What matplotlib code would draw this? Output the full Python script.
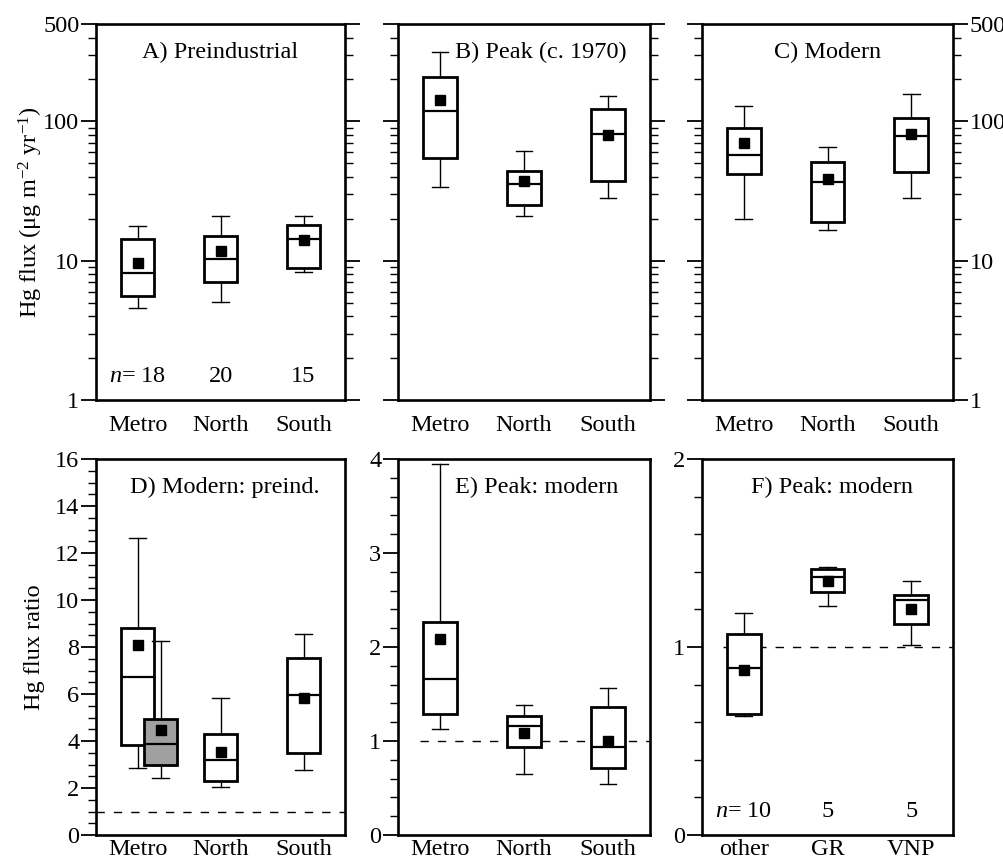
import matplotlib
matplotlib.use("Agg")
import matplotlib.pyplot as plt
from matplotlib.ticker import FixedLocator, MultipleLocator, LogLocator, NullFormatter, FixedFormatter

plt.rcParams['font.family'] = ['Liberation Serif', 'DejaVu Serif']
plt.rcParams['mathtext.fontset'] = 'custom'
plt.rcParams['mathtext.rm'] = 'Liberation Serif'
plt.rcParams['mathtext.it'] = 'Liberation Serif:italic'
FS = 17.5
plt.rcParams['font.size'] = FS

# ---------------- data ----------------
regions = ["Metro", "North", "South"]
parks = ["other", "GR", "VNP"]

# each list: [whisker_low, q1, median, q3, whisker_high], means separate
A_stats = [[4.54, 5.62, 8.17, 14.3, 17.6],
           [5.09, 7.05, 10.2, 15.1, 21.0],
           [8.27, 8.88, 14.3, 18.0, 21.0]]
A_means = [9.64, 11.7, 14.0]
A_n = ["18", "20", "15"]

B_stats = [[33.6, 54.5, 118, 207, 315],
           [20.8, 25.0, 35.7, 43.7, 61.5],
           [28.2, 37.1, 81.4, 122, 153]]
B_means = [143, 37.1, 80.1]

C_stats = [[20.0, 42.1, 57.6, 89.9, 130],
           [16.7, 19.1, 36.5, 51.0, 65.4],
           [28.2, 43.0, 77.9, 105, 157]]
C_means = [69.8, 38.7, 80.5]

D_stats = [[2.83, 3.81, 6.73, 8.82, 12.63],
           [2.05, 2.29, 3.21, 4.28, 5.85],
           [2.76, 3.47, 5.95, 7.55, 8.54]]
D_means = [8.07, 3.54, 5.81]
D_grey_stats = [2.44, 2.96, 3.87, 4.93, 8.25]
D_grey_mean = 4.46

E_stats = [[1.126, 1.285, 1.657, 2.265, 3.947],
           [0.644, 0.931, 1.161, 1.264, 1.38],
           [0.538, 0.715, 0.938, 1.366, 1.565]]
E_means = [2.088, 1.08, 1.0]

F_stats = [[0.632, 0.646, 0.889, 1.07, 1.18],
           [1.219, 1.292, 1.372, 1.414, 1.428],
           [1.009, 1.12, 1.251, 1.274, 1.349]]
F_means = [0.876, 1.349, 1.202]
F_n = ["10", "5", "5"]

# ---------------- figure ----------------
W, H = 1004, 867
fig = plt.figure(figsize=(W / 100, H / 100), dpi=100)

def ax_at(x0, y0, x1, y1):
    return fig.add_axes([x0 / W, 1 - y1 / H, (x1 - x0) / W, (y1 - y0) / H])

cols = [(96, 345), (398, 650), (702, 953)]
top = (24, 400)
bot = (459, 835)
DASH = (0, (6, 6.5))
YLAB_X = -0.205

def draw_boxes(ax, stats, means, positions, facecolor="white", z=3):
    bxs = []
    for s, m in zip(stats, means):
        bxs.append(dict(whislo=s[0], q1=s[1], med=s[2], q3=s[3], whishi=s[4],
                        mean=m, fliers=[]))
    ax.bxp(bxs, positions=positions, widths=0.4, showmeans=True, patch_artist=True,
           showfliers=False,
           boxprops=dict(facecolor=facecolor, edgecolor="black", linewidth=2.0, zorder=z),
           medianprops=dict(color="black", linewidth=1.6, zorder=z + 0.1),
           whiskerprops=dict(color="black", linewidth=1.0, zorder=z - 0.5),
           capprops=dict(color="black", linewidth=1.0, zorder=z - 0.5),
           capwidths=0.2,
           meanprops=dict(marker="s", markerfacecolor="black", markeredgecolor="black",
                          markersize=7.8, zorder=z + 0.2),
           manage_ticks=False)

def style_common(ax, xpad=11):
    for sp in ax.spines.values():
        sp.set_linewidth(1.9)
    ax.set_xlim(0.5, 3.5)
    ax.set_xticks([1, 2, 3])
    ax.tick_params(axis="x", length=0, pad=xpad, labelsize=FS)

def style_y(ax):
    ax.tick_params(axis="y", which="major", direction="out", length=11, width=1.3,
                   labelsize=FS, pad=1)
    ax.tick_params(axis="y", which="minor", direction="out", length=6, width=1.0)

# ---------- top row (log) ----------
top_stats = [A_stats, B_stats, C_stats]
top_means = [A_means, B_means, C_means]
top_titles = ["A) Preindustrial", "B) Peak (c. 1970)", "C) Modern"]
title_x = [2.0, 2.2, 2.0]
for i, (x0, x1) in enumerate(cols):
    ax = ax_at(x0, top[0], x1, top[1])
    ax.set_yscale("log")
    ax.set_ylim(1, 500)
    style_common(ax)
    ax.set_xticklabels(regions)
    draw_boxes(ax, top_stats[i], top_means[i], [1, 2, 3])
    ax.yaxis.set_major_locator(FixedLocator([1, 10, 100, 500]))
    ax.yaxis.set_minor_locator(LogLocator(base=10, subs=range(2, 10)))
    ax.yaxis.set_minor_formatter(NullFormatter())
    ax.yaxis.set_major_formatter(FixedFormatter(["1", "10", "100", "500"]))
    style_y(ax)
    ax.tick_params(axis="y", which="both", left=True, right=True)
    ax.tick_params(axis="y", labelleft=(i == 0), labelright=(i == 2))
    ax.text(title_x[i], 0.925, top_titles[i], transform=ax.get_xaxis_transform(),
            ha="center", va="center", fontsize=FS)
    if i == 0:
        ax.set_ylabel("Hg flux (\u03bcg m$^{-2}$ yr$^{-1}$)", fontsize=FS)
        ax.yaxis.set_label_coords(YLAB_X, 0.5)
        for k, t in enumerate(A_n):
            lbl = "$n$= " + t if k == 0 else t
            ax.text(k + 1, 0.062, lbl, transform=ax.get_xaxis_transform(),
                    ha="center", va="center", fontsize=FS)

# ---------- bottom row (linear) ----------
BPAD = 3
# D
x0, x1 = cols[0]
ax = ax_at(x0, bot[0], x1, bot[1])
style_common(ax, BPAD)
ax.set_xticklabels(regions)
ax.set_ylim(0, 16)
ax.yaxis.set_major_locator(MultipleLocator(2))
ax.yaxis.set_minor_locator(MultipleLocator(0.5))
ax.axhline(1, xmin=0, xmax=1, color="black", linestyle=DASH, linewidth=1.0, zorder=1)
draw_boxes(ax, D_stats, D_means, [1, 2, 3])
draw_boxes(ax, [D_grey_stats], [D_grey_mean], [1.28], facecolor="#a0a0a0", z=5)
style_y(ax)
ax.text(2.05, 0.925, "D) Modern: preind.", transform=ax.get_xaxis_transform(),
        ha="center", va="center", fontsize=FS)
ax.set_ylabel("Hg flux ratio", fontsize=FS)
ax.yaxis.set_label_coords(YLAB_X, 0.5)

# E
x0, x1 = cols[1]
ax = ax_at(x0, bot[0], x1, bot[1])
style_common(ax, BPAD)
ax.set_xticklabels(regions)
ax.set_ylim(0, 4)
ax.yaxis.set_major_locator(MultipleLocator(1))
ax.yaxis.set_minor_locator(MultipleLocator(0.2))
ax.axhline(1, xmin=0.087, xmax=1, color="black", linestyle=DASH, linewidth=1.0, zorder=1)
draw_boxes(ax, E_stats, E_means, [1, 2, 3])
style_y(ax)
ax.text(2.15, 0.925, "E) Peak: modern", transform=ax.get_xaxis_transform(),
        ha="center", va="center", fontsize=FS)

# F
x0, x1 = cols[2]
ax = ax_at(x0, bot[0], x1, bot[1])
style_common(ax, BPAD)
ax.set_xticklabels(parks)
ax.set_ylim(0, 2)
ax.yaxis.set_major_locator(MultipleLocator(1))
ax.yaxis.set_minor_locator(MultipleLocator(0.2))
ax.axhline(1, xmin=0.085, xmax=1, color="black", linestyle=DASH, linewidth=1.0, zorder=1)
draw_boxes(ax, F_stats, F_means, [1, 2, 3])
style_y(ax)
ax.text(2.05, 0.925, "F) Peak: modern", transform=ax.get_xaxis_transform(),
        ha="center", va="center", fontsize=FS)
for k, t in enumerate(F_n):
    lbl = "$n$= " + t if k == 0 else t
    ax.text(k + 1, 0.062, lbl, transform=ax.get_xaxis_transform(),
            ha="center", va="center", fontsize=FS)

fig.savefig("out.png", dpi=100, facecolor="white")
